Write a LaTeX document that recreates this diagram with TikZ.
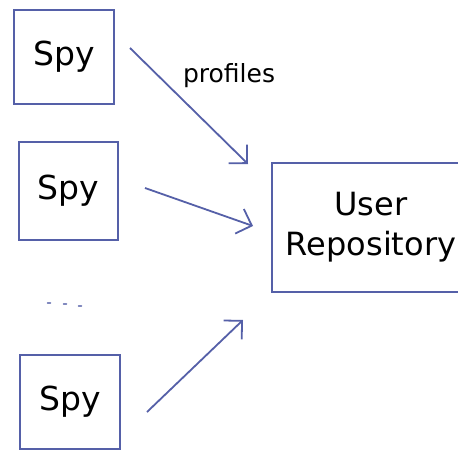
\documentclass[tikz,border=0pt]{standalone}
\usepackage{fontspec}
\setmainfont{DejaVu Sans}
\usetikzlibrary{arrows.meta}
\definecolor{pen}{HTML}{5560A8}
\begin{document}
\begin{tikzpicture}[x=1pt,y=-1pt,
  box/.style={draw=pen,line width=1.8pt,rectangle,inner sep=0pt,font=\fontsize{33}{40}\selectfont,text=black},
  conn/.style={draw=pen,line width=1.8pt,-{Straight Barb[length=13pt,width=26pt,line width=1.8pt]}},
  lbl/.style={font=\fontsize{25}{28}\selectfont,text=black}]
\useasboundingbox (0,0) rectangle (458,450);
\clip (0,0) rectangle (458,450);
\fill[white] (0,0) rectangle (458,450);
\node[box,minimum width=100pt,minimum height=94pt] (spy1) at (64,57) {Spy};
\node[box,minimum width=99pt,minimum height=98pt] (spy2) at (68.5,191) {Spy};
\node[box,minimum width=100pt,minimum height=94pt] (spy3) at (70,402) {Spy};
\node[box,minimum width=198pt,minimum height=129pt,align=center,font=\fontsize{32}{40}\selectfont] (repo) at (371,227.5) {User\\Repository};
\node[lbl] (plabel) at (229,76) {profiles};
\coordinate (a1s) at (130,48);
\coordinate (a1e) at (248,164);
\coordinate (a2s) at (145,188);
\coordinate (a2e) at (253,226);
\coordinate (a3s) at (147,412);
\coordinate (a3e) at (243,320);
\draw[conn] (a1s) -- (a1e);
\draw[conn] (a2s) -- (a2e);
\draw[conn] (a3s) -- (a3e);
\coordinate (d1) at (49,303);
\coordinate (d2) at (65,304);
\coordinate (d3) at (80,306);
\foreach \d in {d1,d2,d3}
  \draw[pen!75,line width=1.5pt,line cap=round] ([xshift=-1.5pt]\d) -- ([xshift=1.5pt]\d);
\end{tikzpicture}
\end{document}
